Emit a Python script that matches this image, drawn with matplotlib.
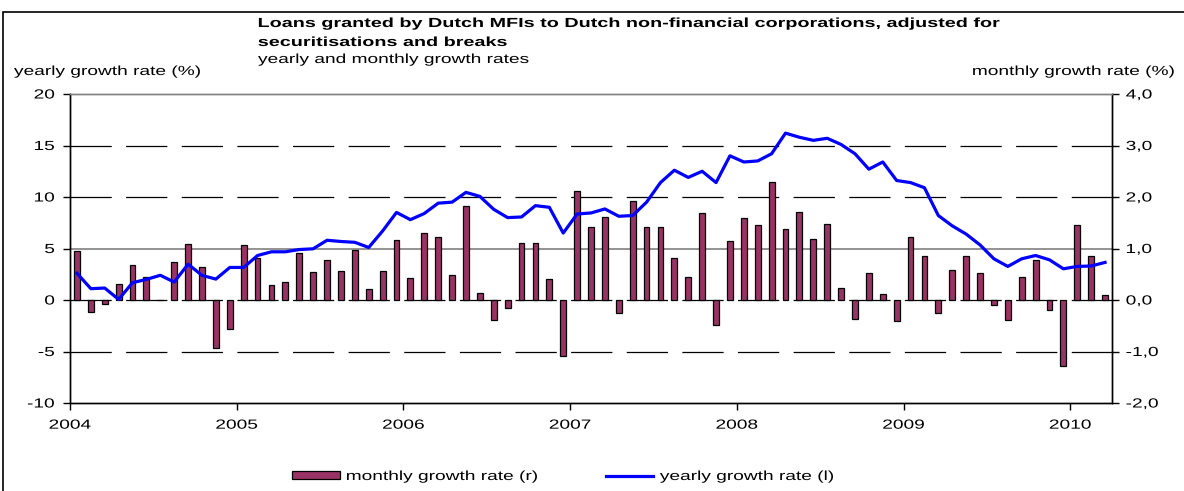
# Dutch MFI loans to non-financial corporations - yearly vs monthly growth
import matplotlib
matplotlib.use("Agg")
import matplotlib.pyplot as plt
from matplotlib.lines import Line2D
from matplotlib.patches import Patch, Rectangle
from matplotlib.patheffects import AbstractPathEffect
from matplotlib.transforms import Affine2D
import numpy as np

plt.rcParams['font.family'] = ['Liberation Sans', 'DejaVu Sans']
plt.rcParams['axes.unicode_minus'] = False

years = ["2004", "2005", "2006", "2007", "2008", "2009", "2010"]

# monthly growth rate (%), right axis, Jan 2004 - Mar 2010
monthly = [0.95, -0.23, -0.07, 0.32, 0.68, 0.45, 0.0, 0.73, 1.09, 0.64, -0.93, -0.57,
           1.06, 0.81, 0.29, 0.34, 0.91, 0.55, 0.77, 0.56, 0.97, 0.21, 0.57, 1.16,
           0.43, 1.30, 1.23, 0.48, 1.82, 0.14, -0.39, -0.16, 1.10, 1.11, 0.41, -1.09,
           2.11, 1.41, 1.61, -0.25, 1.93, 1.41, 1.41, 0.82, 0.45, 1.68, -0.48, 1.14,
           1.59, 1.45, 2.29, 1.38, 1.70, 1.18, 1.48, 0.23, -0.37, 0.53, 0.11, -0.41,
           1.23, 0.86, -0.25, 0.59, 0.86, 0.52, -0.10, -0.38, 0.45, 0.77, -0.20, -1.29,
           1.45, 0.86, 0.09]

# yearly growth rate (%), left axis
yearly = [2.6, 1.1, 1.16, 0.06, 1.68, 2.0, 2.4, 1.74, 3.48, 2.39, 2.03, 3.16,
          3.16, 4.32, 4.68, 4.68, 4.9, 4.97, 5.8, 5.68, 5.6, 5.1, 6.7, 8.5,
          7.8, 8.4, 9.4, 9.5, 10.45, 10.06, 8.8, 8.0, 8.06, 9.16, 9.0, 6.5,
          8.35, 8.45, 8.84, 8.13, 8.2, 9.5, 11.4, 12.6, 11.9, 12.5, 11.4, 14.0,
          13.4, 13.5, 14.2, 16.2, 15.8, 15.5, 15.7, 15.1, 14.2, 12.7, 13.4, 11.6,
          11.4, 10.9, 8.2, 7.2, 6.4, 5.35, 4.0, 3.26, 4.0, 4.32, 3.9, 3.03,
          3.26, 3.3, 3.65]


# the source chart has horizontally stretched lettering
class HStretch(AbstractPathEffect):
    def __init__(self, sx=1.45, anchor='left'):
        super().__init__()
        self.sx = sx
        self.anchor = anchor

    def draw_path(self, renderer, gc, tpath, affine, rgbFace=None):
        ext = tpath.get_extents(affine)
        if self.anchor == 'left':
            xa = ext.x0
        elif self.anchor == 'right':
            xa = ext.x1
        else:
            xa = (ext.x0 + ext.x1) / 2
        t = affine + Affine2D().translate(-xa, 0).scale(self.sx, 1).translate(xa, 0)
        renderer.draw_path(gc, tpath, t, rgbFace)


FS = 9.5
x = np.arange(len(monthly)) + 0.5

fig = plt.figure(figsize=(11.84, 4.91), dpi=100)
ax = fig.add_axes([70/1184, 1-403/491, 1042/1184, 309/491])
ax2 = ax.twinx()
ax.set_zorder(ax2.get_zorder() + 1)
ax.patch.set_visible(False)

# gridlines (drawn on the bar axis, behind bars)
for v in [3, 2, 0, -1]:
    ax2.axhline(v, color='black', lw=0.9, dashes=(33, 11.5), zorder=0)
ax2.axhline(1, color='#808080', lw=1.2, zorder=0)

ax2.bar(x, monthly, width=0.42, color='#993366', edgecolor='black',
        linewidth=0.9, zorder=2)
ax.plot(x, yearly, color='#0000FF', linewidth=2.3)

ax.set_xlim(0, 75)
ax.set_ylim(-10, 20)
ax2.set_ylim(-2, 4)
ax.set_yticks(range(-10, 21, 5))
ax2.set_yticks(range(-2, 5))
ax2.set_yticklabels([("%.1f" % v).replace(".", ",") for v in range(-2, 5)])
ax.set_xticks(np.arange(0, 73, 12))
ax.set_xticklabels(years)

for a in (ax, ax2):
    for s in a.spines.values():
        s.set_linewidth(1.0)
    a.spines['top'].set_color('#808080')
    a.tick_params(labelsize=FS, length=5, width=1, direction='out')
ax.tick_params(axis='y', pad=6)
ax2.tick_params(axis='y', pad=5)
ax.tick_params(axis='x', length=5, pad=7)

for t in ax.get_yticklabels():
    t.set_path_effects([HStretch(1.45, 'right')])
for t in ax2.get_yticklabels():
    t.set_path_effects([HStretch(1.45, 'left')])
for t in ax.get_xticklabels():
    t.set_path_effects([HStretch(1.45, 'center')])

# outer frame
fig.add_artist(Rectangle((3/1184, -0.1), 1.2, 1.1 - 12/491, transform=fig.transFigure,
                         fill=False, edgecolor='black', lw=1.2))

titles = [(24, "Loans granted by Dutch MFIs to Dutch non-financial corporations, adjusted for", 'bold'),
          (43, "securitisations and breaks", 'bold'),
          (60, "yearly and monthly growth rates", 'normal')]
for yy, txt, w in titles:
    fig.text(258/1184, 1-yy/491, txt, fontsize=FS, fontweight=w, va='center', ha='left',
             path_effects=[HStretch(1.5 if w == 'bold' else 1.45, 'left')])
fig.text(14/1184, 1-72/491, "yearly growth rate (%)", fontsize=FS, va='center', ha='left',
         path_effects=[HStretch(1.45, 'left')])
fig.text(1175/1184, 1-72/491, "monthly growth rate (%)", fontsize=FS, va='center', ha='right',
         path_effects=[HStretch(1.45, 'right')])

handles = [Patch(facecolor='#993366', edgecolor='black', lw=0.9),
           Line2D([], [], color='#0000FF', lw=2.3)]
leg = fig.legend(handles, ["monthly growth rate (r)", "yearly growth rate (l)"],
                 loc='center left', bbox_to_anchor=(292/1184, 1-477/491), ncol=2,
                 frameon=False, fontsize=FS, handlelength=3.6, handleheight=0.55,
                 columnspacing=9.6, handletextpad=0.5, borderpad=0, borderaxespad=0)
for t in leg.get_texts():
    t.set_path_effects([HStretch(1.45, 'left')])

fig.savefig("out.png", dpi=100)
